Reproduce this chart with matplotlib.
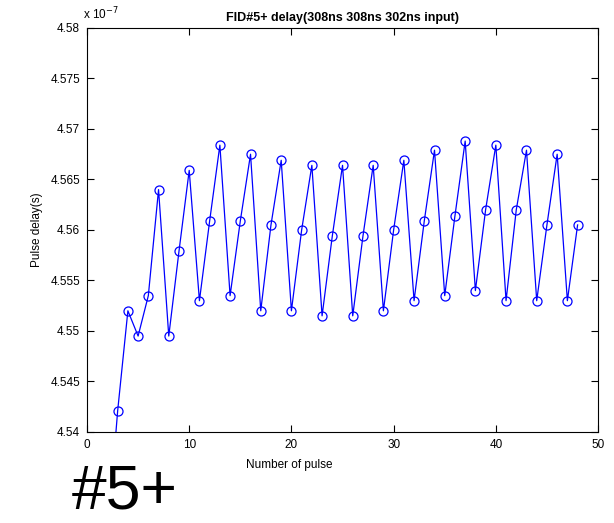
import matplotlib.pyplot as plt
from matplotlib.ticker import FuncFormatter

plt.rcParams['font.family'] = ['Liberation Sans', 'DejaVu Sans']

# Pulse number and measured delay (units of 1e-7 s)
pulse = list(range(2, 49))
delay = [4.5296, 4.5421, 4.5520, 4.5495, 4.5535, 4.5640, 4.5495, 4.5579, 4.5659,
         4.5530, 4.5609, 4.5684, 4.5535, 4.5609, 4.5675, 4.5520, 4.5605, 4.5669,
         4.5520, 4.5600, 4.5664, 4.5515, 4.5594, 4.5664, 4.5515, 4.5594, 4.5664,
         4.5520, 4.5600, 4.5669, 4.5530, 4.5609, 4.5679, 4.5535, 4.5614, 4.5688,
         4.5540, 4.5620, 4.5684, 4.5530, 4.5620, 4.5679, 4.5530, 4.5605, 4.5675,
         4.5530, 4.5605]

xticks = [0, 10, 20, 30, 40, 50]
yticks = [4.54, 4.545, 4.55, 4.555, 4.56, 4.565, 4.57, 4.575, 4.58]

fig = plt.figure(figsize=(6.14, 5.23), dpi=100)
ax = fig.add_axes([0.1417, 0.174, 0.8323, 0.7725])

ax.plot(pulse, delay, '-o', color='#0000ff', lw=0.9, markersize=6.5,
        markerfacecolor='none', markeredgewidth=0.9)

ax.set_xlim(0, 50)
ax.set_ylim(4.54, 4.58)
ax.set_xticks(xticks)
ax.set_yticks(yticks)
ax.yaxis.set_major_formatter(FuncFormatter(lambda v, p: '%g' % round(v, 4)))
ax.tick_params(direction='in', top=True, right=True, length=5, width=0.8,
               labelsize=8.5, pad=5)
for s in ax.spines.values():
    s.set_linewidth(0.8)

ax.set_title('FID#5+ delay(308ns 308ns 302ns input)', fontsize=9, fontweight='bold', pad=5)
fig.text(83 / 614, 1 - 14 / 523, r'x 10$^{-7}$', fontsize=8.5, ha='left', va='center')
fig.text(37 / 614, 1 - 230 / 523, 'Pulse delay(s)', fontsize=8.5, rotation=90,
         ha='center', va='center')
fig.text(289 / 614, 1 - 465 / 523, 'Number of pulse', fontsize=8.5, ha='center', va='center')
fig.text(72 / 614, 0.002, '#5+', fontsize=45, ha='left', va='bottom')

fig.savefig('out.png', dpi=100)
